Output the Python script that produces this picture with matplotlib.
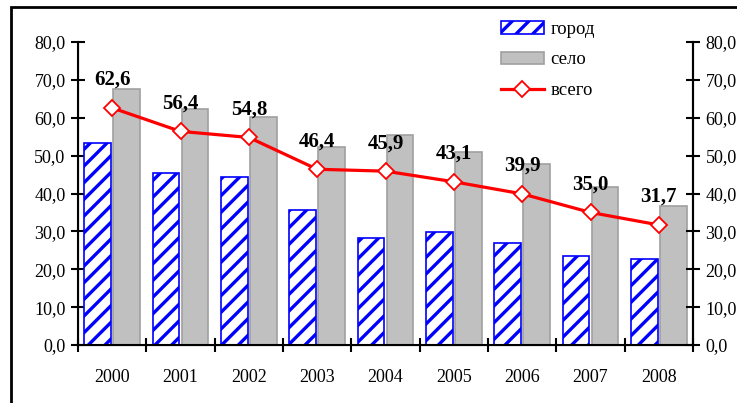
import matplotlib.pyplot as plt
import numpy as np
from matplotlib.patches import Rectangle

plt.rcParams["font.family"] = ["Liberation Serif", "DejaVu Serif"]
plt.rcParams["hatch.linewidth"] = 2.4
plt.rcParams["hatch.color"] = "#0000ff"

years = ["2000", "2001", "2002", "2003", "2004", "2005", "2006", "2007", "2008"]
gorod = [53.4, 45.3, 44.4, 35.6, 28.3, 29.9, 26.8, 23.5, 22.6]
selo = [67.6, 62.3, 60.2, 52.2, 55.4, 51.0, 47.8, 41.6, 36.8]
vsego = [62.6, 56.4, 54.8, 46.4, 45.9, 43.1, 39.9, 35.0, 31.7]

fig = plt.figure(figsize=(7.37, 4.03), dpi=100)
ax = fig.add_axes([78/737, 58/403, 615/737, 303/403])

x = np.arange(len(years))
w = 0.39
b1 = ax.bar(x - 0.21, gorod, w, facecolor="white", edgecolor="#0000ff",
            linewidth=1.2, hatch="//", label="город", zorder=2)
b2 = ax.bar(x + 0.21, selo, w, facecolor="#c0c0c0", edgecolor="#a0a0a0",
            linewidth=1.2, label="село", zorder=2)
l1, = ax.plot(x, vsego, color="#ff0000", linewidth=2.3, marker="D", markersize=8,
              markerfacecolor="white", markeredgecolor="#ff0000", markeredgewidth=1.3,
              label="всего", zorder=3)

for xi, v in zip(x, vsego):
    ax.annotate(f"{v:.1f}".replace(".", ","), (xi, v), xytext=(0, 13),
                textcoords="offset points", ha="center", va="bottom",
                fontsize=15, fontweight="bold", zorder=4)

ax.set_xlim(-0.5, len(years) - 0.5)
ax.set_ylim(0, 80)
yt = np.arange(0, 81, 10)
ax.set_yticks(yt)
ax.set_yticklabels([f"{t:.1f}".replace(".", ",") for t in yt], fontsize=13)
ax.set_xticks(np.arange(-0.5, len(years), 1))
ax.set_xticklabels([])
ax.set_xticks(x, minor=True)
ax.set_xticklabels(years, minor=True, fontsize=13)
ax.tick_params(axis="x", which="minor", length=0, pad=17)
ax.tick_params(axis="x", which="major", direction="inout", length=10, width=1.5)
ax.tick_params(axis="y", direction="inout", length=10, width=1.5, pad=4)
ax.spines["top"].set_visible(False)
for s in ["left", "right", "bottom"]:
    ax.spines[s].set_linewidth(1.5)

ax2 = ax.twinx()
ax2.set_ylim(0, 80)
ax2.set_yticks(yt)
ax2.set_yticklabels([f"{t:.1f}".replace(".", ",") for t in yt], fontsize=13)
ax2.tick_params(axis="y", direction="inout", length=10, width=1.5, pad=4)
ax2.spines["top"].set_visible(False)
ax2.spines["right"].set_linewidth(1.5)

ax.legend([b1, b2, l1], ["город", "село", "всего"], loc="upper left",
          bbox_to_anchor=(0.66, 1.125), frameon=False,
          fontsize=13.5, handlelength=2.3, handleheight=0.65, labelspacing=0.72,
          handletextpad=0.35)

fig.add_artist(Rectangle((11/737, -0.5), 2.0, 1.5 - 7/403, transform=fig.transFigure,
                         fill=False, edgecolor="black", linewidth=2, clip_on=False))

fig.savefig("out.png", dpi=100)
